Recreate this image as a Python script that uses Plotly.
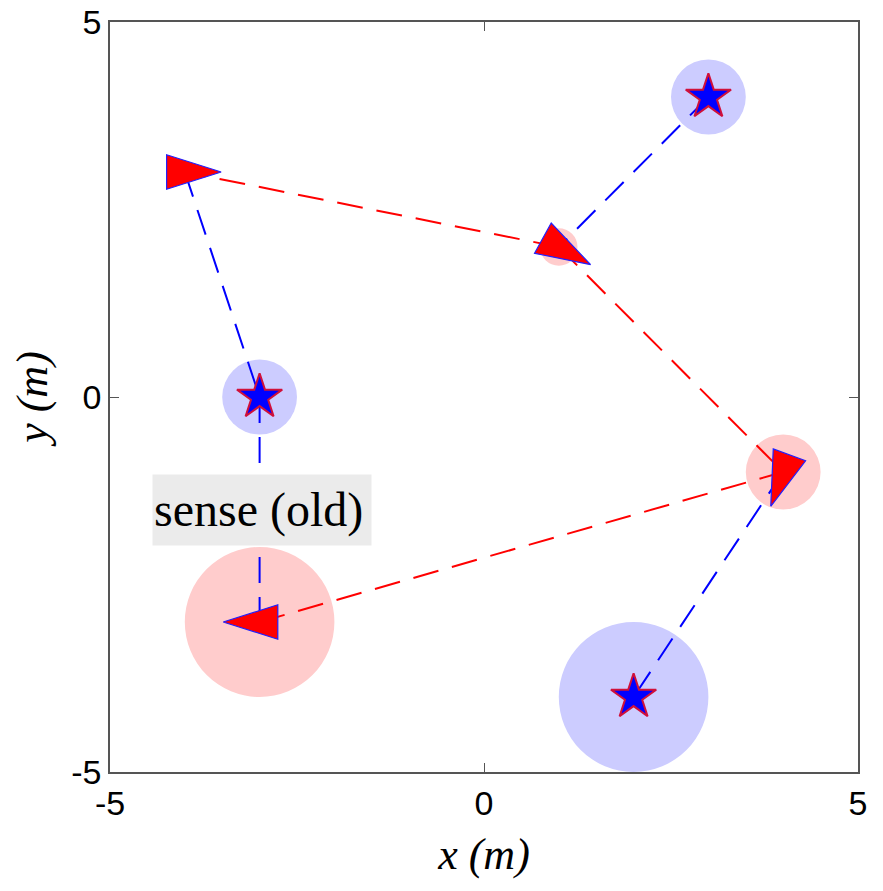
import numpy as np
import plotly.graph_objects as go

# ---- data ----
star_x = [3, -3, 2]
star_y = [4, 0, -4]
star_r = [0.5, 0.5, 1.0]

tri_x = [-4, 1, 4, -3]
tri_y = [3, 2, -1, -3]
tri_heading = [0, -29, -110, 180]  # degrees, data frame
tri_r = [0.0, 0.25, 0.5, 1.0]

# links: (kind, index) pairs
blue_links = [(("s", 0), ("t", 1)), (("t", 0), ("s", 1)), (("s", 1), ("t", 3)), (("t", 2), ("s", 2))]
red_links = [(("t", 1), ("t", 0)), (("t", 1), ("t", 2)), (("t", 3), ("t", 2))]

tick_vals = [-5, 0, 5]
tick_text = ["-5", "0", "5"]
label_text = "sense (old)"

TRI_LEN = 0.73
TRI_BASE = 0.46


def pos(node):
    k, i = node
    return (star_x[i], star_y[i]) if k == "s" else (tri_x[i], tri_y[i])


fig = go.Figure()

# circles (below traces)
shapes = []
for x, y, r in zip(star_x, star_y, star_r):
    if r > 0:
        shapes.append(dict(type="circle", xref="x", yref="y", x0=x - r, x1=x + r, y0=y - r, y1=y + r,
                           fillcolor="#CCCCFF", line=dict(width=0), layer="below"))
for x, y, r in zip(tri_x, tri_y, tri_r):
    if r > 0:
        shapes.append(dict(type="circle", xref="x", yref="y", x0=x - r, x1=x + r, y0=y - r, y1=y + r,
                           fillcolor="#FFCCCC", line=dict(width=0), layer="below"))

# links
DASH = "26px,14px"
for links, col in [(red_links, "#FF0000"), (blue_links, "#0000FF")]:
    xs, ys = [], []
    for a, b in links:
        (xa, ya), (xb, yb) = pos(a), pos(b)
        xs += [xa, xb, None]
        ys += [ya, yb, None]
    fig.add_trace(go.Scatter(x=xs, y=ys, mode="lines", line=dict(color=col, width=2, dash=DASH),
                             hoverinfo="skip", showlegend=False))

# triangles as polygons computed from position + heading
for x, y, h in zip(tri_x, tri_y, tri_heading):
    a = np.deg2rad(h)
    d = np.array([np.cos(a), np.sin(a)])
    p = np.array([-d[1], d[0]])
    c = np.array([x, y])
    tip = c + d * TRI_LEN * 2 / 3
    b1 = c - d * TRI_LEN / 3 + p * TRI_BASE / 2
    b2 = c - d * TRI_LEN / 3 - p * TRI_BASE / 2
    pts = [tip, b1, b2, tip]
    fig.add_trace(go.Scatter(x=[q[0] for q in pts], y=[q[1] for q in pts], mode="lines",
                             fill="toself", fillcolor="#FF0000", line=dict(color="#2020FF", width=1.2),
                             hoverinfo="skip", showlegend=False))

# stars
fig.add_trace(go.Scatter(x=star_x, y=star_y, mode="markers",
                         marker=dict(symbol="star", size=34, color="#0000FF",
                                     line=dict(color="#D0103A", width=2)),
                         hoverinfo="skip", showlegend=False))

fig.add_annotation(x=-4.44, y=-1.51, xref="x", yref="y", text=label_text, showarrow=False,
                   xanchor="left", yanchor="middle", align="left",
                   font=dict(family="Liberation Serif", size=48, color="black"),
                   bgcolor="#EBEBEB", width=216, height=68, borderpad=1)

axis_common = dict(range=[-5, 5], tickvals=tick_vals, ticktext=tick_text, showgrid=False, zeroline=False,
                   showline=True, linecolor="#555555", linewidth=1.5, mirror="ticks", ticks="inside",
                   ticklen=9, tickwidth=1, tickcolor="#555555",
                   tickfont=dict(family="Liberation Sans", size=34, color="black"))

fig.update_layout(
    width=883, height=891,
    margin=dict(l=110, r=25, t=22, b=119),
    plot_bgcolor="white", paper_bgcolor="white",
    shapes=shapes,
    xaxis=dict(**axis_common, title=dict(text="<i>x (m)</i>", standoff=18,
                                          font=dict(family="Liberation Serif", size=44, color="black"))),
    yaxis=dict(**axis_common, title=dict(text="<i>y (m)</i>", standoff=10,
                                          font=dict(family="Liberation Serif", size=44, color="black"))),
)
fig.update_xaxes(automargin=False)
fig.update_yaxes(automargin=False)

fig.write_html("out.html")
